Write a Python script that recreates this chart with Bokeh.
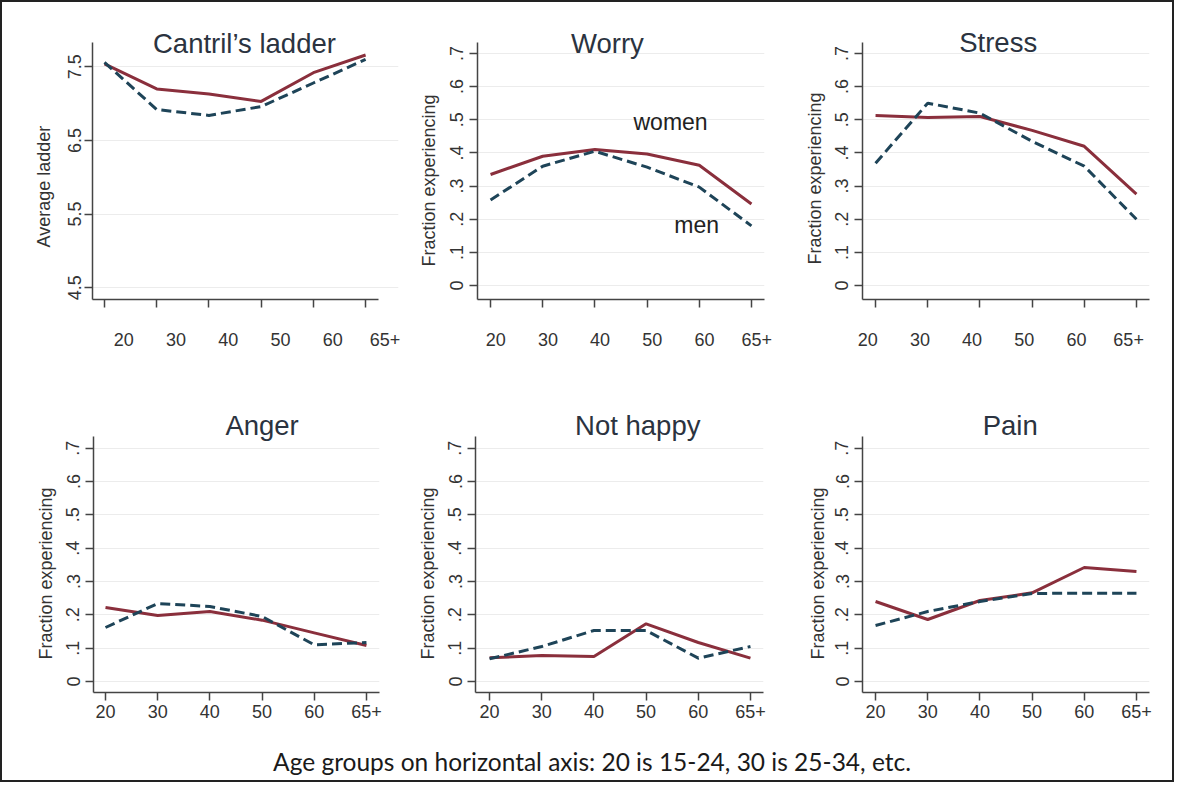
from bokeh.plotting import figure
from bokeh.layouts import column, row
from bokeh.models import Range1d, FixedTicker, CustomJSTickFormatter, LinearAxis, Label, Title
from bokeh.embed import file_html
from bokeh.resources import INLINE

# ---------------- data ----------------
AGE_LABELS = ["20", "30", "40", "50", "60", "65+"]
AGE_POS = [0, 1, 2, 3, 4, 5]

TITLES = ["Cantril\u2019s ladder", "Worry", "Stress", "Anger", "Not happy", "Pain"]
Y_LABELS = ["Average ladder"] + ["Fraction  experiencing"] * 5

LADDER_WOMEN = [7.54, 7.20, 7.13, 7.03, 7.42, 7.66]
LADDER_MEN = [7.56, 6.92, 6.84, 6.96, 7.28, 7.60]
WORRY_WOMEN = [0.335, 0.390, 0.410, 0.397, 0.363, 0.246]
WORRY_MEN = [0.258, 0.360, 0.405, 0.357, 0.297, 0.180]
STRESS_WOMEN = [0.513, 0.507, 0.510, 0.468, 0.420, 0.276]
STRESS_MEN = [0.369, 0.550, 0.520, 0.435, 0.360, 0.200]
ANGER_WOMEN = [0.222, 0.198, 0.210, 0.184, 0.146, 0.108]
ANGER_MEN = [0.162, 0.234, 0.225, 0.195, 0.110, 0.117]
NOTHAPPY_WOMEN = [0.071, 0.078, 0.075, 0.173, 0.117, 0.070]
NOTHAPPY_MEN = [0.068, 0.105, 0.153, 0.153, 0.070, 0.105]
PAIN_WOMEN = [0.240, 0.186, 0.243, 0.266, 0.342, 0.330]
PAIN_MEN = [0.168, 0.210, 0.240, 0.264, 0.265, 0.265]

LADDER_TICKS = [4.5, 5.5, 6.5, 7.5]
FRACTION_TICKS = [0, 0.1, 0.2, 0.3, 0.4, 0.5, 0.6, 0.7]

SERIES = [
    (LADDER_WOMEN, LADDER_MEN),
    (WORRY_WOMEN, WORRY_MEN),
    (STRESS_WOMEN, STRESS_MEN),
    (ANGER_WOMEN, ANGER_MEN),
    (NOTHAPPY_WOMEN, NOTHAPPY_MEN),
    (PAIN_WOMEN, PAIN_MEN),
]

CAPTION = "Age groups on horizontal axis: 20 is 15-24, 30 is 25-34, etc."

# ---------------- styles / layout ----------------
WOMEN_COLOR = "#8a2f3c"
MEN_COLOR = "#1e4458"
AXIS_COLOR = "#444444"
TEXT_COLOR = "#333333"
TITLE_COLOR = "#2b3340"
GRID_COLOR = "#ececec"
FONT = "Liberation Sans"
PXU = 52.2  # pixels per age-group step

COL_W = [405, 385, 380]
ROW_H = [352, 370]
B_TOP = [15, 50]          # top of (extended) plotting frame
EXT_PX = [25, 32]         # frame extension above the axis top (room for titles)
FRAME_H = [257, 256]      # visible axis height
B_LEFT = [[90, 70, 70], [91, 68, 70]]
X_RANGES = [[(-0.23, 5.63), (-0.25, 5.25), (-0.25, 5.25)],
            [(-0.23, 5.25), (-0.27, 5.25), (-0.25, 5.25)]]
Y_RANGES = [[(4.34, 7.83), (-0.042, 0.733), (-0.042, 0.733)],
            [(-0.033, 0.735)] * 3]
LABEL_SHIFT = [0.37, 0.10, -0.15]
TITLE_POS = [(2.68, 7.81), (2.24, 0.730), (2.35, 0.733),
             (3.00, 0.768), (2.84, 0.768), (2.58, 0.768)]
Y_STANDOFF = [3, 6, 6, 6, 6, 6]
YLAB_STANDOFF = [24, 17, 15, 16, 16, 10]
YLAB_OFFSET = [52, 33, 35, 33, 33, 33]

frac_fmt = CustomJSTickFormatter(code="""
if (Math.abs(tick) < 1e-9) { return "0"; }
return tick.toFixed(1).replace(/^0/, "");
""")


def make_panel(r, c):
    k = r * 3 + c
    xr = X_RANGES[r][c]
    y0, y1 = Y_RANGES[r][c]
    ppu = FRAME_H[r] / (y1 - y0)
    y_top = y1 + EXT_PX[r] / ppu
    fw = COL_W[c]
    fh = ROW_H[r]
    bl = B_LEFT[r][c]
    frame_w = (xr[1] - xr[0]) * PXU
    br = max(0, int(round(fw - bl - frame_w)))
    bt = B_TOP[r]
    bb = fh - bt - FRAME_H[r] - EXT_PX[r]
    p = figure(width=fw, height=fh, x_range=Range1d(*xr), y_range=Range1d(y0, y_top),
               output_backend="svg", toolbar_location=None,
               min_border_left=bl, min_border_right=br,
               min_border_top=bt, min_border_bottom=bb)
    p.outline_line_color = None
    p.background_fill_color = "white"
    p.border_fill_color = "white"
    p.xgrid.visible = False

    yticks = LADDER_TICKS if k == 0 else FRACTION_TICKS
    p.yaxis.ticker = FixedTicker(ticks=yticks)
    p.ygrid.ticker = FixedTicker(ticks=yticks)
    p.ygrid.grid_line_color = GRID_COLOR
    p.ygrid.grid_line_width = 1
    if k != 0:
        p.yaxis.formatter = frac_fmt

    ya = p.yaxis[0]
    ya.bounds = (y0, y1)
    ya.major_label_orientation = "vertical"
    ya.major_label_text_font = FONT
    ya.major_label_text_font_size = "18px"
    ya.major_label_text_color = TEXT_COLOR
    ya.major_label_standoff = Y_STANDOFF[k]
    ya.major_tick_out = 8
    ya.major_tick_in = 0
    ya.minor_tick_line_color = None
    ya.axis_line_color = AXIS_COLOR
    ya.axis_line_width = 1.5
    ya.major_tick_line_color = AXIS_COLOR
    ya.major_tick_line_width = 1.5

    # y-axis title, placed along the visible part of the axis
    p.add_layout(Title(text=Y_LABELS[k], align="left", offset=YLAB_OFFSET[k],
                       standoff=YLAB_STANDOFF[k], text_font=FONT, text_font_size="18px",
                       text_font_style="normal", text_color=TEXT_COLOR), "left")

    xa = p.xaxis[0]
    xa.ticker = FixedTicker(ticks=AGE_POS)
    xa.major_tick_out = 8
    xa.major_tick_in = 0
    xa.minor_tick_line_color = None
    xa.axis_line_color = AXIS_COLOR
    xa.axis_line_width = 1.5
    xa.major_tick_line_color = AXIS_COLOR
    xa.major_tick_line_width = 1.5
    xa.major_label_text_font = FONT
    xa.major_label_text_font_size = "18px"
    xa.major_label_text_color = TEXT_COLOR
    xa.bounds = (xr[0], 5.25)
    xa.formatter = CustomJSTickFormatter(args=dict(labels=AGE_LABELS),
                                         code="return labels[Math.round(tick)];")

    if r == 0:
        # tick marks on the axis line; the (offset) labels come from a second axis below
        xa.major_label_text_color = None
        xa.major_label_standoff = 0
        shift = LABEL_SHIFT[c]
        lab_axis = LinearAxis(
            ticker=FixedTicker(ticks=[i + shift for i in AGE_POS]),
            formatter=CustomJSTickFormatter(args=dict(labels=AGE_LABELS, shift=shift),
                                            code="return labels[Math.round(tick - shift)];"),
            axis_line_color=None, major_tick_line_color=None, minor_tick_line_color=None,
            major_tick_out=0, major_tick_in=0, major_label_standoff=25,
            major_label_text_font=FONT, major_label_text_font_size="18px",
            major_label_text_color=TEXT_COLOR)
        p.add_layout(lab_axis, "below")
    else:
        xa.major_label_standoff = 4

    women, men = SERIES[k]
    p.line(AGE_POS, women, line_color=WOMEN_COLOR, line_width=3)
    p.line(AGE_POS, men, line_color=MEN_COLOR, line_width=3, line_dash="10 5")

    tx, ty = TITLE_POS[k]
    p.add_layout(Label(x=tx, y=ty, text=TITLES[k], text_align="center",
                       text_baseline="alphabetic", text_font=FONT,
                       text_font_size="27.5px", text_color=TITLE_COLOR))
    if k == 1:
        p.add_layout(Label(x=3.45, y=0.492, text="women", text_align="center",
                           text_baseline="alphabetic", text_font=FONT,
                           text_font_size="23px", text_color="#222222"))
        p.add_layout(Label(x=3.95, y=0.183, text="men", text_align="center",
                           text_baseline="alphabetic", text_font=FONT,
                           text_font_size="23px", text_color="#222222"))
    return p


rows = []
for r in range(2):
    rows.append(row(*[make_panel(r, c) for c in range(3)], spacing=0))

cap_w = sum(COL_W)
cap_h = 56
cap = figure(width=cap_w, height=cap_h, x_range=Range1d(3, 3 + cap_w), y_range=Range1d(0, cap_h),
             output_backend="svg", toolbar_location=None,
             x_axis_location=None, y_axis_location=None,
             min_border_left=0, min_border_right=0, min_border_top=0, min_border_bottom=0)
cap.grid.visible = False
cap.outline_line_color = None
cap.add_layout(Label(x=592.5, y=19, text=CAPTION, text_align="center",
                     text_baseline="alphabetic", text_font="Lato",
                     text_font_size="24.5px", text_color="#1a1a1a"))

layout = column(rows[0], rows[1], cap, spacing=0,
                styles={"border": "2px solid #222222", "background-color": "white"})

open("out.html", "w").write(file_html(layout, INLINE))
